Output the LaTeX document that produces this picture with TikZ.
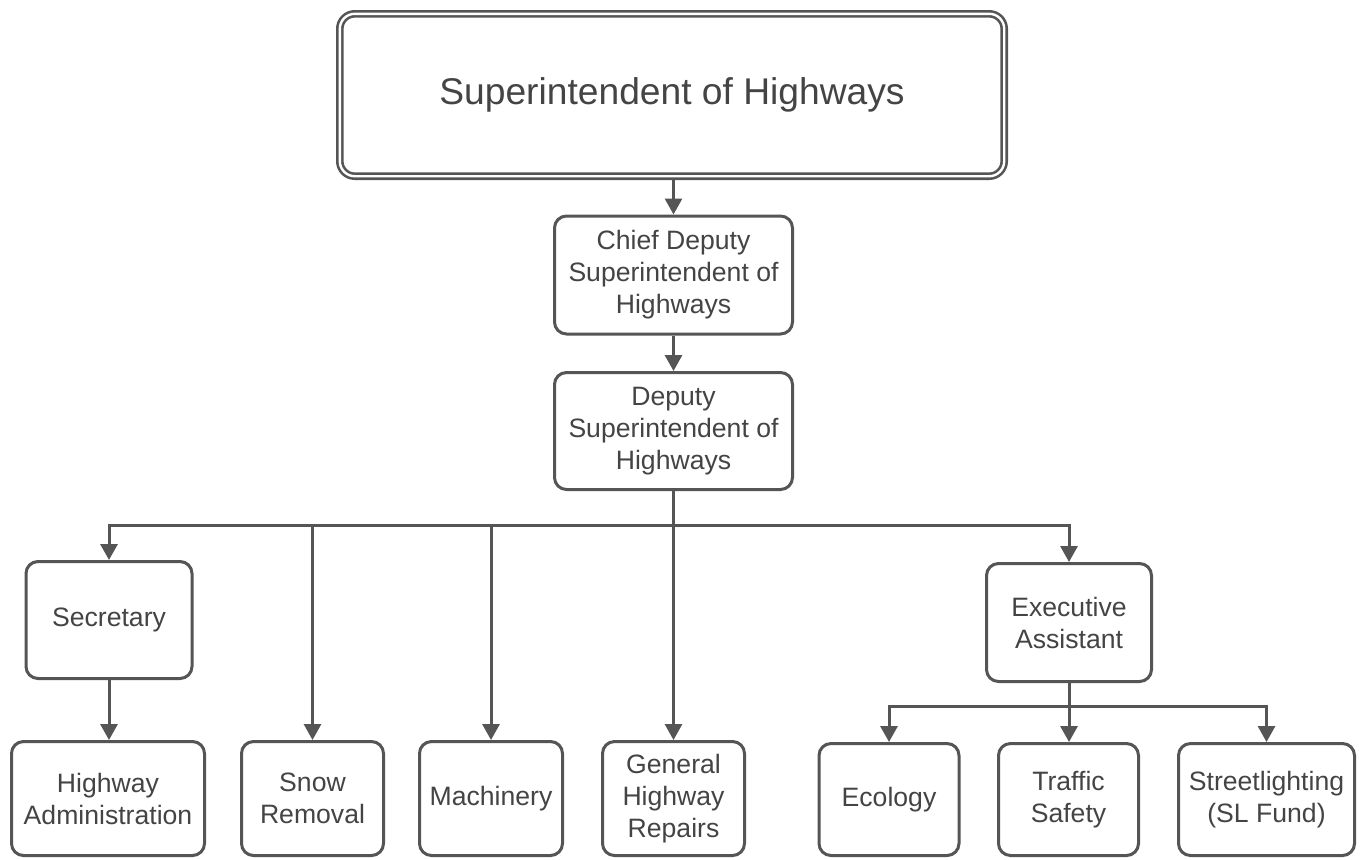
\documentclass[tikz,border=0pt]{standalone}
\usepackage{fontspec}
\setmainfont{Liberation Sans}
\usetikzlibrary{arrows.meta}
\definecolor{linegray}{HTML}{555555}
\definecolor{textgray}{HTML}{444444}
\begin{document}
\begin{tikzpicture}[x=0.5pt,y=-0.5pt,
  box/.style={draw=linegray, line width=1.5pt, rounded corners=6pt, fill=white,
    text=textgray, align=center, inner sep=2pt,
    font=\fontsize{13.3}{16}\selectfont},
  topbox/.style={draw=linegray, line width=1.3pt, double=white, double distance=1.2pt,
    rounded corners=7.5pt, text=textgray,
    minimum width=332.2pt, minimum height=81.2pt,
    font=\fontsize{18.6}{22}\selectfont},
  conn/.style={draw=linegray, line width=1.5pt},
  arr/.style={conn, -{Triangle[width=8.5pt,length=8pt]}}
]
\useasboundingbox (0,0) rectangle (1363,859);
\fill[white] (0,0) rectangle (1363,859);

\node[topbox] (top) at (672,95) {Superintendent of Highways};
\node[box, minimum width=119pt, minimum height=59pt] (chief) at (673.5,275)
  {Chief Deputy\\Superintendent of\\Highways};
\node[box, minimum width=119pt, minimum height=58.5pt] (deputy) at (673.5,431)
  {Deputy\\Superintendent of\\Highways};
\node[box, minimum width=83pt, minimum height=58.5pt] (sec) at (109,620) {Secretary};
\node[box, minimum width=82.5pt, minimum height=59pt] (ea) at (1069,622.5)
  {Executive\\Assistant};

\node[box, minimum width=96.5pt, minimum height=57pt] (ha) at (108,798.5)
  {Highway\\Administration};
\node[box, minimum width=71pt, minimum height=57pt] (snow) at (312.5,798.5)
  {Snow\\Removal};
\node[box, minimum width=71.5pt, minimum height=57pt] (mach) at (491,798.5)
  {Machinery};
\node[box, minimum width=71pt, minimum height=57pt] (ghr) at (673.5,798.5)
  {General\\Highway\\Repairs};
\node[box, minimum width=70pt, minimum height=56pt] (eco) at (889,799.5)
  {Ecology};
\node[box, minimum width=70pt, minimum height=56pt] (traffic) at (1068.5,799.5)
  {Traffic\\Safety};
\node[box, minimum width=88pt, minimum height=56pt] (sl) at (1266.5,799.5)
  {Streetlighting\\(SL Fund)};

\coordinate (bus) at (673.5,525);
\coordinate (bus2) at (1069,706);

\draw[arr] (top.south -| chief.north) -- (chief.north);
\draw[arr] (chief.south) -- (deputy.north);
\draw[arr] (deputy.south) -- (ghr.north);
\draw[arr] (bus) -| (sec.north);
\draw[arr] (bus) -| (snow.north);
\draw[arr] (bus) -| (mach.north);
\draw[arr] (bus) -| (ea.north);
\draw[arr] (sec.south) -- (sec.south |- ha.north);
\draw[arr] (ea.south) -- (ea.south |- traffic.north);
\draw[arr] (bus2) -| (eco.north);
\draw[arr] (bus2) -| (sl.north);
\end{tikzpicture}
\end{document}
